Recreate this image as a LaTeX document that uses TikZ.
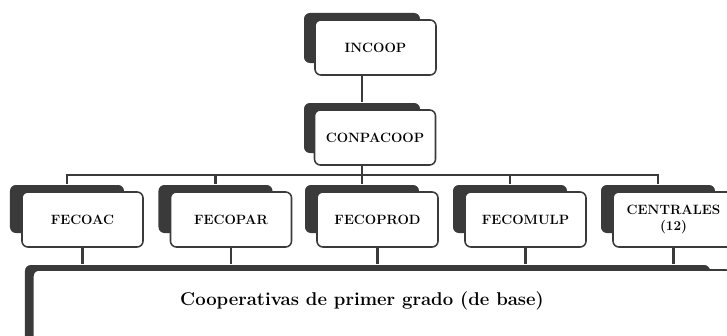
\documentclass[tikz,border=0pt]{standalone}
\usetikzlibrary{positioning}
\definecolor{cdark}{HTML}{3A3A3A}
\tikzset{
  every picture/.style={line width=1.3pt},
  front/.style={draw=cdark, fill=white, rounded corners=5pt, align=center, minimum width=3.63cm, minimum height=1.65cm, inner sep=2pt, font=\fontsize{11.5}{14}\selectfont\bfseries},
  back/.style={fill=cdark, rounded corners=5pt, minimum width=3.42cm, minimum height=1.44cm, inner sep=0pt},
  link/.style={draw=cdark, line width=2pt},
}
\begin{document}
\begin{tikzpicture}[x=0.03cm, y=-0.03cm]
  \useasboundingbox (0,0) rectangle (727,335);
  \clip (0,0) rectangle (727,335);
  % shadows
  \node[back, minimum width=3.48cm, minimum height=1.5cm] (sincoop) at (362,38) {};
  \node[back, minimum width=3.48cm, minimum height=1.5cm] (sconpa) at (362,128) {};
  \foreach \i/\x in {1/82.5, 2/231, 3/377.5, 4/525.5, 5/673.5}
    \node[back] (s\i) at (\x-15.5,209) {};
  \node[back, minimum width=20.55cm, minimum height=3.45cm] (sbase) at (367.5,322.5) {};
  % connectors
  \coordinate (bus) at (0,175);
  \draw[link] (sincoop) -- (sconpa);
  \draw[link] (sconpa) -- (sconpa |- bus);
  \draw[link] (s1) -- (s1 |- bus) -- (s5 |- bus) -- (s5);
  \foreach \i in {2,3,4}
    \draw[link] (s\i) -- (s\i |- bus);
  % boxes
  \node[front] (incoop) at (375.5,47.5) {INCOOP};
  \node[front] (conpa) at (375,137.5) {CONPACOOP};
  \foreach \i/\x/\t in {1/82.5/FECOAC, 2/231/FECOPAR, 3/377.5/FECOPROD, 4/525.5/FECOMULP, 5/673.5/{CENTRALES\\(12)}}
    \node[front] (f\i) at (\x,219.5) {\t};
  \foreach \i in {1,...,5}
    \draw[link] (f\i.south) -- (f\i |- sbase.north);
  \node[front, minimum width=20.97cm, minimum height=3.45cm] (base) at (382.5,327.5) {};
  \node[font=\fontsize{15.8}{19}\selectfont\bfseries] (basetext) at (362,301) {Cooperativas de primer grado (de base)};
\end{tikzpicture}
\end{document}
